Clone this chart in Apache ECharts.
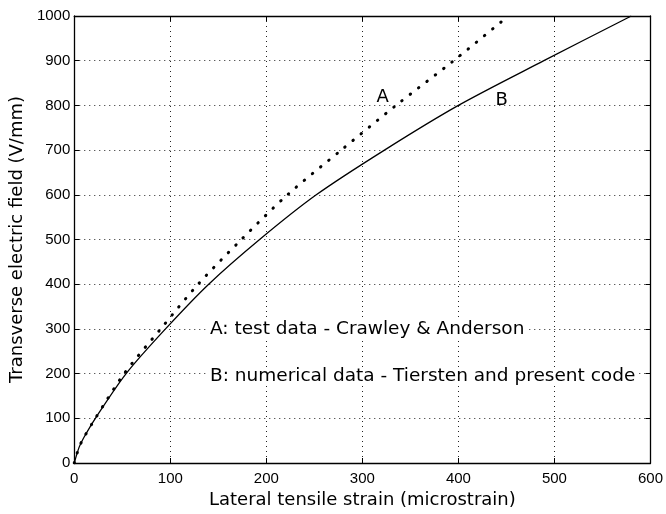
<!DOCTYPE html>
<html><head><meta charset="utf-8">
<script src="https://cdn.jsdelivr.net/npm/echarts@6/dist/echarts.min.js"></script>
<style>html,body{margin:0;padding:0;background:#fff;overflow:hidden}#c{width:666px;height:514px}</style>
</head><body><div id="c"></div>
<script>
var xTicks = [0, 100, 200, 300, 400, 500, 600];
var yTicks = [0, 100, 200, 300, 400, 500, 600, 700, 800, 900, 1000];
// A: test data (strain, field)
var seriesA = [[0,0],[5,35],[10,57],[22,100],[52,200],[90,300],[129,400],[174,500],[222,600],[278,700],[335,800],[395,900],[452,1000]];
// B: numerical data (strain, field)
var seriesB = [[0,0],[5,35],[10,57],[22,100],[54,200],[95,300],[140,400],[193,500],[252,600],[323,700],[400,800],[489,900],[580,1000]];
var labelA = {text: 'A', coord: [321, 818]};
var labelB = {text: 'B', coord: [445, 812]};
var noteA = 'A: test data - Crawley & Anderson';
var noteB = 'B: numerical data - Tiersten and present code';

var font = 'Liberation Sans, Arial, Helvetica, sans-serif';
var tfont = 'DejaVu Sans, Liberation Sans, Arial, sans-serif';
var chart = echarts.init(document.getElementById('c'), null, {renderer: 'canvas'});
function ax(pos, isX, show) {
  return {
    type: 'value', position: pos, min: 0, max: isX ? 600 : 1000, interval: 100,
    axisLine: {show: true, onZero: false, lineStyle: {color: '#000', width: 1.3}},
    axisTick: {show: true, inside: true, length: 5, lineStyle: {color: '#000'}},
    axisLabel: {show: show, color: '#000', fontSize: 15, fontFamily: font, margin: isX ? 8 : 4,
      formatter: function (v) { return String(v); }},
    splitLine: {show: show, lineStyle: {color: '#222', type: [1, 4], width: 1}}
  };
}
var xb = ax('bottom', true, true);
xb.name = 'Lateral tensile strain (microstrain)';
xb.nameLocation = 'middle'; xb.nameGap = 28;
xb.nameTextStyle = {color: '#000', fontSize: 18, fontFamily: tfont};
var xt = ax('top', true, false);
var yl = ax('left', false, true);
yl.name = 'Transverse electric field (V/mm)';
yl.nameLocation = 'middle'; yl.nameGap = 44;
yl.nameTextStyle = {color: '#000', fontSize: 18, fontFamily: tfont};
var yr = ax('right', false, false);

chart.setOption({
  backgroundColor: '#fff',
  animation: false,
  grid: {left: 73, right: 11, top: 16, bottom: 47},
  xAxis: [xb, xt],
  yAxis: [yl, yr],
  series: [
    {type: 'line', data: seriesA, smooth: 0.3, showSymbol: false,
     lineStyle: {color: '#000', width: 3, type: [0.5, 10], cap: 'round'},
     markPoint: {symbol: 'circle', symbolSize: 0, data: [{coord: labelA.coord, value: labelA.text,
       label: {show: true, formatter: labelA.text, color: '#000', fontSize: 18, fontFamily: tfont}}]},
     z: 3},
    {type: 'line', data: seriesB, smooth: 0.3, showSymbol: false,
     lineStyle: {color: '#000', width: 1.3},
     markPoint: {symbol: 'circle', symbolSize: 0, data: [{coord: labelB.coord, value: labelB.text,
       label: {show: true, formatter: labelB.text, color: '#000', fontSize: 18, fontFamily: tfont}}]},
     z: 3}
  ],
  graphic: [
    {type: 'text', left: 207, top: 320, z: 10, style: {text: noteA, fill: '#000', font: '18.5px ' + tfont,
      backgroundColor: '#fff', padding: [0, 3]}},
    {type: 'text', left: 207, top: 367, z: 10, style: {text: noteB, fill: '#000', font: '18.5px ' + tfont,
      backgroundColor: '#fff', padding: [0, 3]}}
  ]
});
</script></body></html>
